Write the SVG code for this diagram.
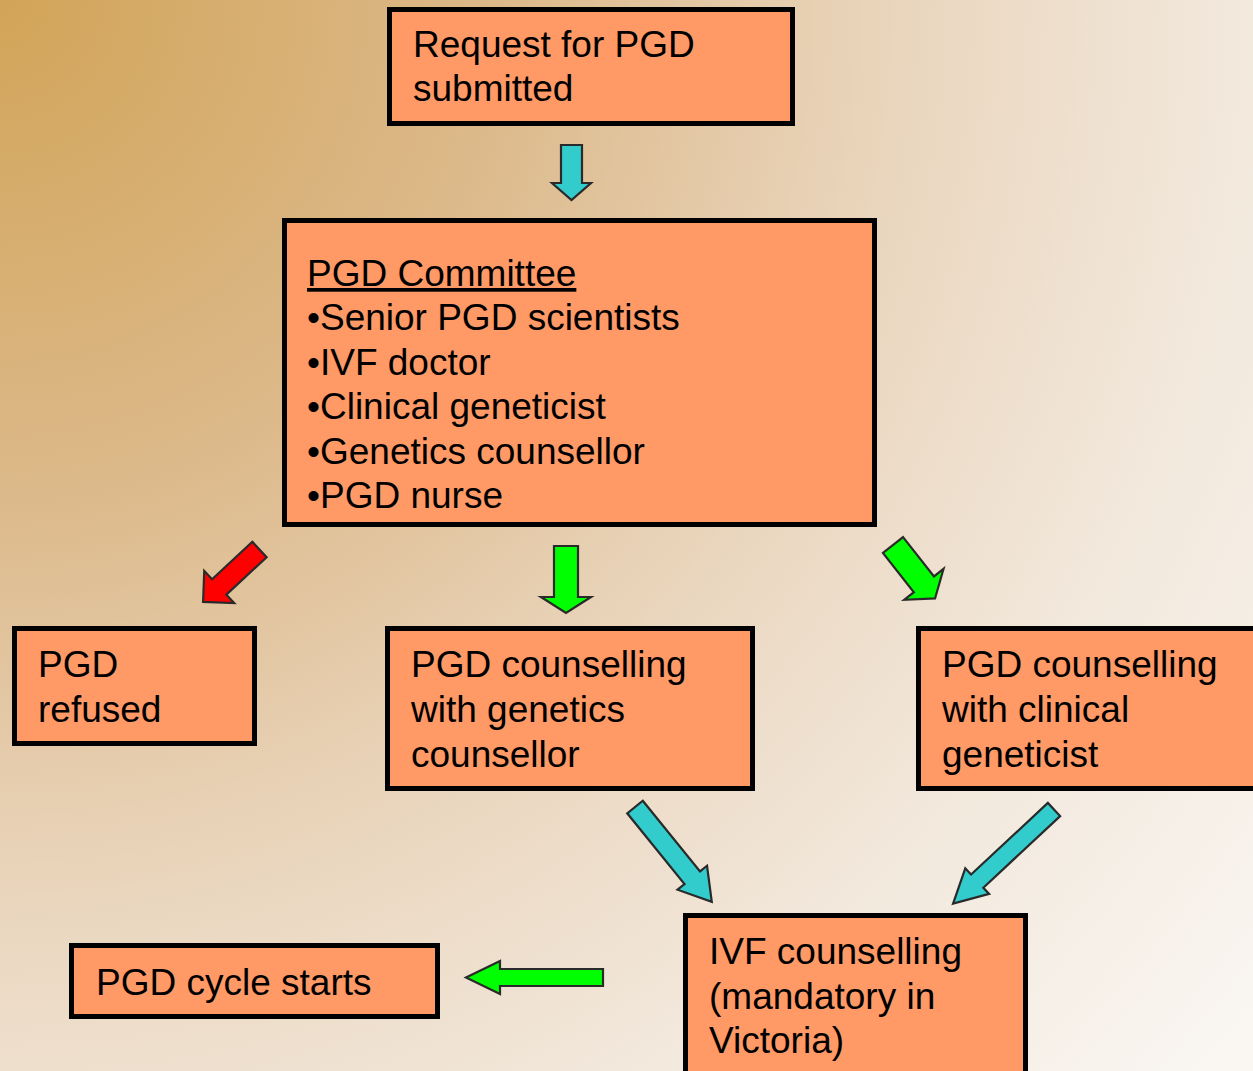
<svg xmlns="http://www.w3.org/2000/svg" width="1253" height="1071" viewBox="0 0 1253 1071">
<defs>
<radialGradient id="bg" cx="0" cy="0" r="1650" gradientUnits="userSpaceOnUse">
<stop offset="0" stop-color="#D2A458"/>
<stop offset="0.3" stop-color="#DCB98A"/>
<stop offset="0.55" stop-color="#EAD6BE"/>
<stop offset="0.75" stop-color="#F2E8DC"/>
<stop offset="1" stop-color="#FAF7F3"/>
</radialGradient>
</defs>
<style>
.box{fill:#FF9966;stroke:#000;stroke-width:5}
.t{font-family:"Liberation Sans",Arial,sans-serif;font-size:37px;fill:#000}
.arr{stroke:#2a2a2a;stroke-width:2.2;stroke-linejoin:miter}
.cyan{fill:#33CCCC}
.green{fill:#00FF00}
.red{fill:#FF0000}
</style>
<rect x="0" y="0" width="1253" height="1071" fill="url(#bg)"/>

<g id="connectors">
<!-- A1 request -> committee -->
<polygon class="arr cyan" transform="translate(571.5,145) rotate(90)" points="0,-10.5 38,-10.5 38,-19.5 55,0 38,19.5 38,10.5 0,10.5"/>
<!-- A2 committee -> refused -->
<polygon class="arr red" transform="translate(259.5,549.5) rotate(137.1)" points="0,-10.5 55,-10.5 55,-22 77,0 55,22 55,10.5 0,10.5"/>
<!-- A3 committee -> genetics counsellor -->
<polygon class="arr green" transform="translate(566,546) rotate(90)" points="0,-12 51,-12 51,-25 67,0 51,25 51,12 0,12"/>
<!-- A4 committee -> clinical geneticist -->
<polygon class="arr green" transform="translate(893,545) rotate(51.8)" points="0,-12.8 50,-12.8 50,-25 68,0 50,25 50,12.8 0,12.8"/>
<!-- A5 genetics counsellor -> IVF -->
<polygon class="arr cyan" transform="translate(635,807) rotate(51)" points="0,-10 91,-10 91,-19 122,0 91,19 91,10 0,10"/>
<!-- A6 clinical geneticist -> IVF -->
<polygon class="arr cyan" transform="translate(1054,809.5) rotate(137)" points="0,-9 105,-9 105,-17.5 138,0 105,17.5 105,9 0,9"/>
<!-- A7 IVF -> cycle starts -->
<polygon class="arr green" transform="translate(603,977.5) rotate(180)" points="0,-8.5 103,-8.5 103,-16.5 137,0 103,16.5 103,8.5 0,8.5"/>
</g>

<g id="request">
<rect class="box" x="389.5" y="9.5" width="403" height="114"/>
<text class="t" x="413" y="57">Request for PGD</text>
<text class="t" x="413" y="101">submitted</text>
</g>

<g id="committee">
<rect class="box" x="284.5" y="220.5" width="590" height="304"/>
<text class="t" x="307" y="286" text-decoration="underline">PGD Committee</text>
<text class="t" x="307" y="330">•Senior PGD scientists</text>
<text class="t" x="307" y="375">•IVF doctor</text>
<text class="t" x="307" y="419">•Clinical geneticist</text>
<text class="t" x="307" y="464">•Genetics counsellor</text>
<text class="t" x="307" y="508">•PGD nurse</text>
</g>

<g id="refused">
<rect class="box" x="14.5" y="628.5" width="240" height="115"/>
<text class="t" x="38" y="677">PGD</text>
<text class="t" x="38" y="722">refused</text>
</g>

<g id="genetics-counsellor">
<rect class="box" x="387.5" y="628.5" width="365" height="160"/>
<text class="t" x="411" y="677">PGD counselling</text>
<text class="t" x="411" y="722">with genetics</text>
<text class="t" x="411" y="767">counsellor</text>
</g>

<g id="clinical-geneticist">
<rect class="box" x="918.5" y="628.5" width="345" height="160"/>
<text class="t" x="942" y="677">PGD counselling</text>
<text class="t" x="942" y="722">with clinical</text>
<text class="t" x="942" y="767">geneticist</text>
</g>

<g id="ivf">
<rect class="box" x="685.5" y="915.5" width="340" height="170"/>
<text class="t" x="709" y="964">IVF counselling</text>
<text class="t" x="709" y="1009">(mandatory in</text>
<text class="t" x="709" y="1053">Victoria)</text>
</g>

<g id="cycle">
<rect class="box" x="71.5" y="945.5" width="366" height="71"/>
<text class="t" x="96" y="995">PGD cycle starts</text>
</g>
</svg>
